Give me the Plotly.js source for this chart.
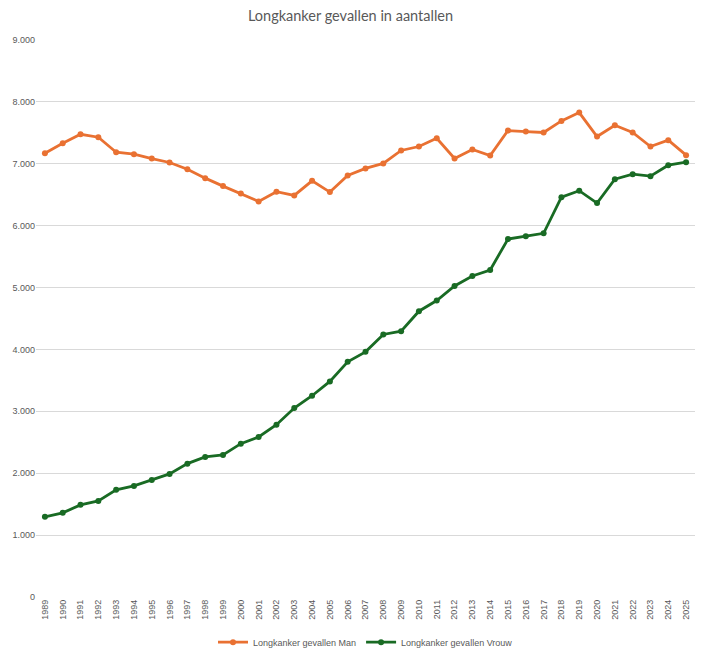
<!DOCTYPE html>
<html>
<head>
<meta charset="utf-8">
<script src="https://cdn.plot.ly/plotly-3.0.1.min.js"></script>
<style>html,body{margin:0;padding:0;background:#fff;}#chart{width:701px;height:648px;}</style>
</head>
<body>
<div id="chart"></div>
<script>
var years = ["1989","1990","1991","1992","1993","1994","1995","1996","1997","1998","1999","2000","2001","2002","2003","2004","2005","2006","2007","2008","2009","2010","2011","2012","2013","2014","2015","2016","2017","2018","2019","2020","2021","2022","2023","2024","2025"];
var man = [7171,7332,7477,7429,7187,7155,7085,7021,6913,6768,6639,6521,6392,6548,6489,6725,6543,6811,6925,7005,7215,7279,7413,7085,7231,7134,7537,7521,7505,7693,7827,7440,7623,7505,7279,7381,7139];
var vrouw = [1295,1360,1489,1553,1731,1795,1892,1989,2155,2263,2295,2478,2586,2784,3053,3252,3484,3800,3961,4242,4295,4618,4790,5026,5187,5284,5784,5827,5876,6461,6565,6365,6752,6832,6800,6977,7026];
var yTicks = [0,1000,2000,3000,4000,5000,6000,7000,8000,9000];
var yTickText = ["0","1.000","2.000","3.000","4.000","5.000","6.000","7.000","8.000","9.000"];

var traces = [
  {x: years, y: man, name: "Longkanker gevallen Man", type: "scatter", mode: "lines+markers",
   line: {color: "#E97132", width: 2.8}, marker: {color: "#E97132", size: 6}},
  {x: years, y: vrouw, name: "Longkanker gevallen Vrouw", type: "scatter", mode: "lines+markers",
   line: {color: "#196B24", width: 2.8}, marker: {color: "#196B24", size: 6}}
];

var layout = {
  width: 701, height: 648,
  margin: {l: 36, r: 6, t: 40, b: 51},
  paper_bgcolor: "#ffffff", plot_bgcolor: "#ffffff",
  title: {text: "Longkanker gevallen in aantallen", x: 0.5, xanchor: "center", y: 0.975, yanchor: "middle",
          font: {family: "Lato, 'Liberation Sans', sans-serif", size: 14.5, color: "#595959"}},
  xaxis: {type: "category", range: [-0.5, 36.5], tickangle: -90, showgrid: false, zeroline: false,
          showline: false, ticks: "", tickfont: {family: "'Liberation Sans', Arial, sans-serif", size: 9, color: "#595959"}},
  yaxis: {range: [0, 9000], tickvals: yTicks, ticktext: yTickText, showgrid: true, gridcolor: "#d9d9d9", gridwidth: 1,
          zeroline: false, showline: false, ticks: "", ticklen: 0,
          tickfont: {family: "'Liberation Sans', Arial, sans-serif", size: 9, color: "#595959"}},
  showlegend: true,
  legend: {orientation: "h", x: 0.5, xanchor: "center", yref: "container", y: 0.009, yanchor: "middle",
           font: {family: "'Liberation Sans', Arial, sans-serif", size: 9, color: "#595959"}, itemwidth: 30},
  hovermode: false
};
Plotly.newPlot("chart", traces, layout, {displayModeBar: false, staticPlot: true});
</script>
</body>
</html>
